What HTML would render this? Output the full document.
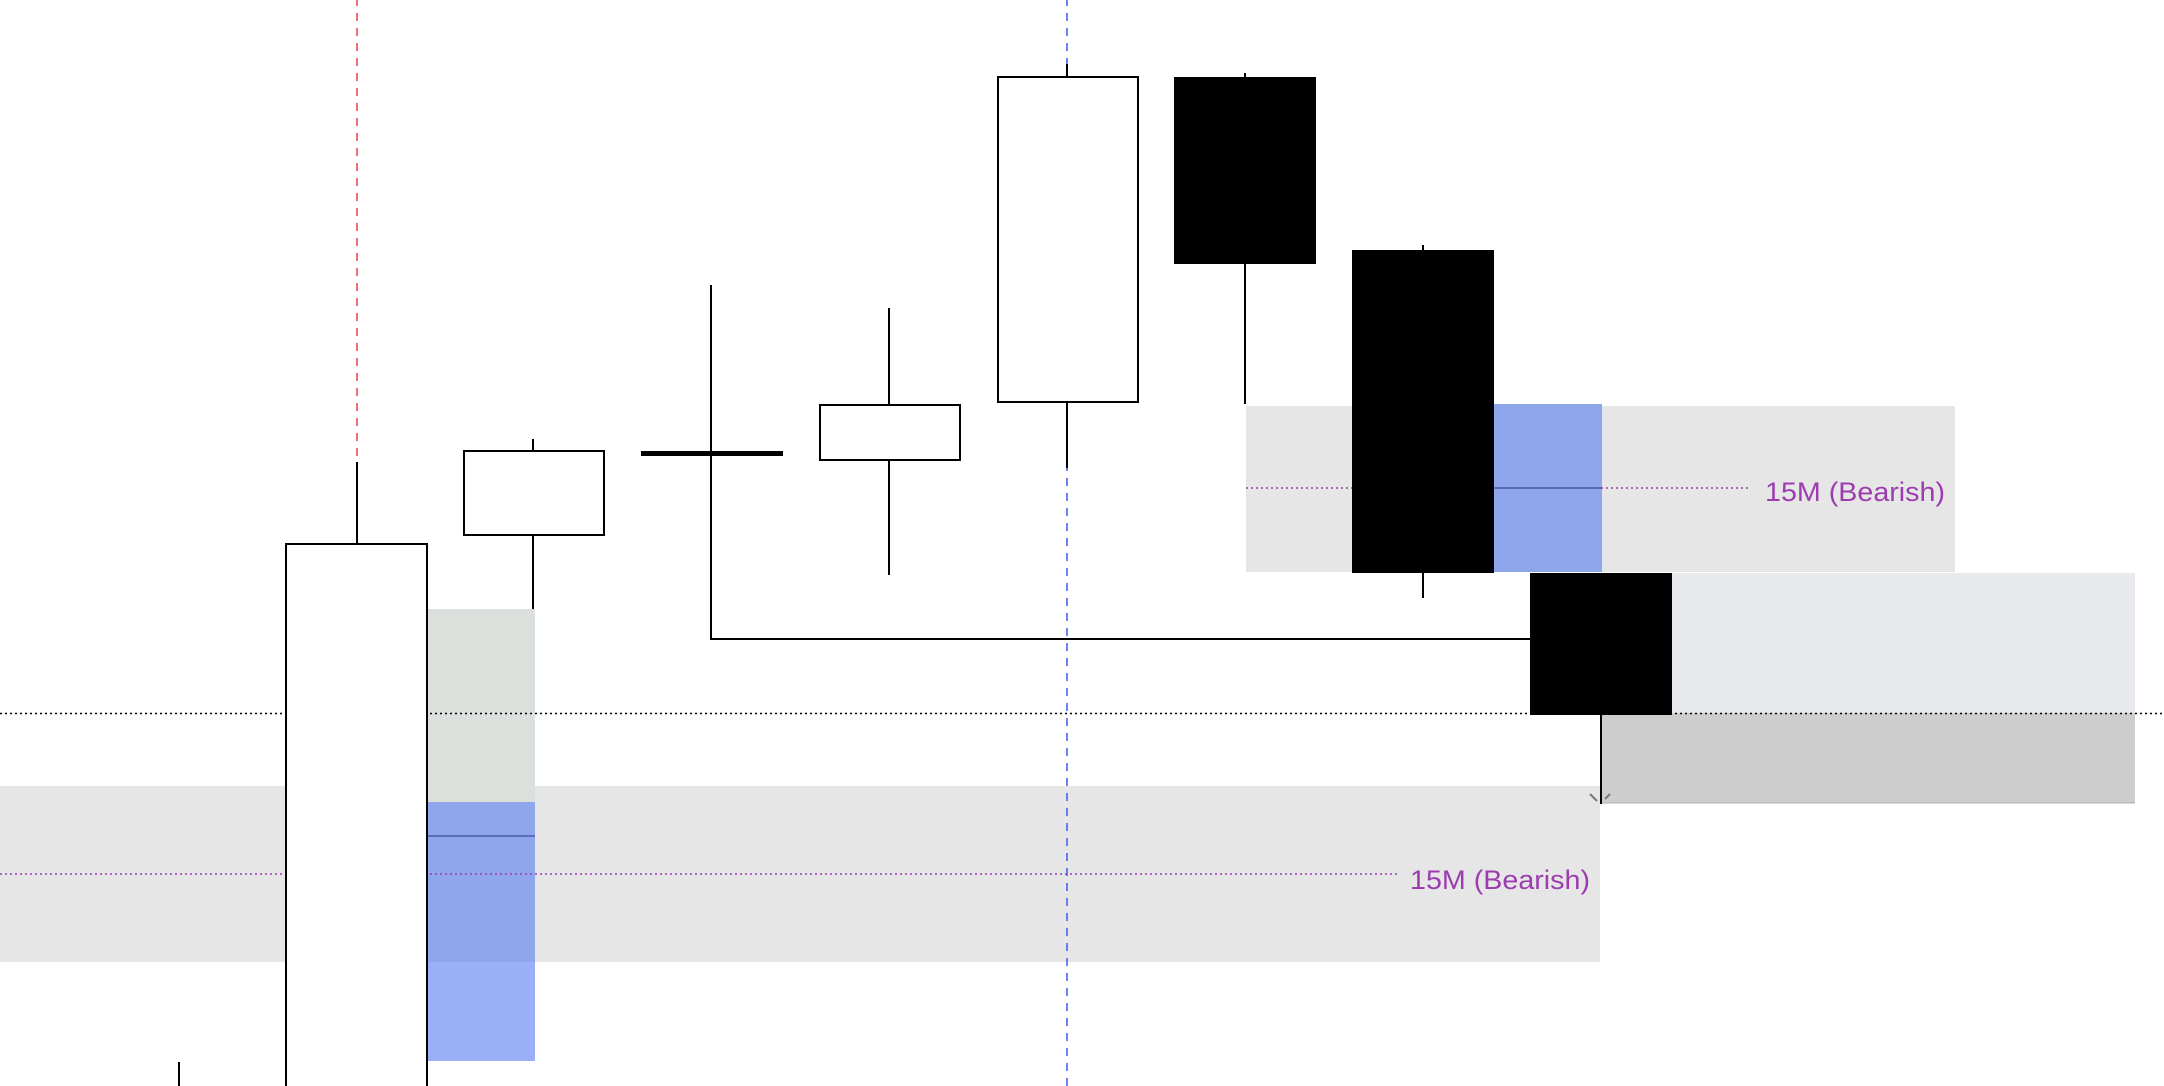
<!DOCTYPE html>
<html><head><meta charset="utf-8"><style>html,body{margin:0;padding:0;background:#fff}svg{display:block}</style></head>
<body>
<svg width="2164" height="1086" viewBox="0 0 2164 1086" xmlns="http://www.w3.org/2000/svg" font-family="Liberation Sans, sans-serif">
<rect width="2164" height="1086" fill="#fff"/>
<g transform="translate(0,2)">
<rect x="0" y="784" width="1600" height="176" fill="#e6e6e6"/>
<rect x="427" y="607" width="108" height="193" fill="#dce0dd"/>
<rect x="427" y="800" width="108" height="259" fill="#9aaff8"/>
<rect x="427" y="800" width="108" height="160" fill="#8fa5ec"/>
<line x1="427" y1="834" x2="535" y2="834" stroke="#4a5aa8" stroke-width="1.5"/>
<rect x="1246" y="404" width="709" height="166" fill="#e6e6e6"/>
<rect x="1494" y="402" width="108" height="168" fill="#8fa5ec"/>
<rect x="1672" y="571" width="463" height="140" fill="#e8e9ec"/>
<rect x="1602" y="711" width="533" height="90" fill="#cdcdcd"/>
<line x1="1602" y1="801" x2="2135" y2="801" stroke="#b0b0b0" stroke-width="1"/>
<line x1="357" y1="-4" x2="357" y2="460" stroke="#e8404a" stroke-width="1.5" stroke-dasharray="8,7"/>
<line x1="1067" y1="-4" x2="1067" y2="1086" stroke="#3a5ef0" stroke-width="1.5" stroke-dasharray="8,7"/>
<line x1="0" y1="711.5" x2="2164" y2="711.5" stroke="#000" stroke-width="1.5" stroke-dasharray="2,3"/>
<line x1="0" y1="872" x2="1398" y2="872" stroke="#9c3cb0" stroke-width="1.5" stroke-dasharray="2,3"/>
<line x1="1246" y1="486" x2="1751" y2="486" stroke="#9c3cb0" stroke-width="1.5" stroke-dasharray="2,3"/>
<line x1="1494" y1="486" x2="1602" y2="486" stroke="#4a5aa8" stroke-width="1.5"/>
<text x="1410" y="887" font-size="27" fill="#9c3cb0" textLength="180" lengthAdjust="spacingAndGlyphs">15M (Bearish)</text>
<text x="1765" y="499" font-size="27" fill="#9c3cb0" textLength="180" lengthAdjust="spacingAndGlyphs">15M (Bearish)</text>
<g stroke="#000" stroke-width="2" fill="none">
<line x1="179" y1="1060" x2="179" y2="1086"/>
<line x1="357" y1="460" x2="357" y2="542"/>
<rect x="286" y="542" width="141" height="560" fill="#fff"/>
<line x1="533" y1="437" x2="533" y2="607"/>
<rect x="464" y="449" width="140" height="84" fill="#fff"/>
<polyline points="711,283 711,637 1530,637"/>
<line x1="641" y1="451.5" x2="783" y2="451.5" stroke-width="5"/>
<line x1="889" y1="306" x2="889" y2="573"/>
<rect x="820" y="403" width="140" height="55" fill="#fff"/>
<line x1="1067" y1="62" x2="1067" y2="466"/>
<rect x="998" y="75" width="140" height="325" fill="#fff"/>
<line x1="1245" y1="71" x2="1245" y2="402"/>
<line x1="1423" y1="243" x2="1423" y2="596"/>
<line x1="1601" y1="700" x2="1601" y2="802"/>
</g>
<rect x="1174" y="75" width="142" height="187" fill="#000"/>
<rect x="1352" y="248" width="142" height="323" fill="#000"/>
<rect x="1530" y="571" width="142" height="142" fill="#000"/>
<g stroke="#777" stroke-width="2"><line x1="1590" y1="792" x2="1597" y2="799"/><line x1="1605" y1="797" x2="1610" y2="792"/></g>
</g>
</svg>
</body></html>
